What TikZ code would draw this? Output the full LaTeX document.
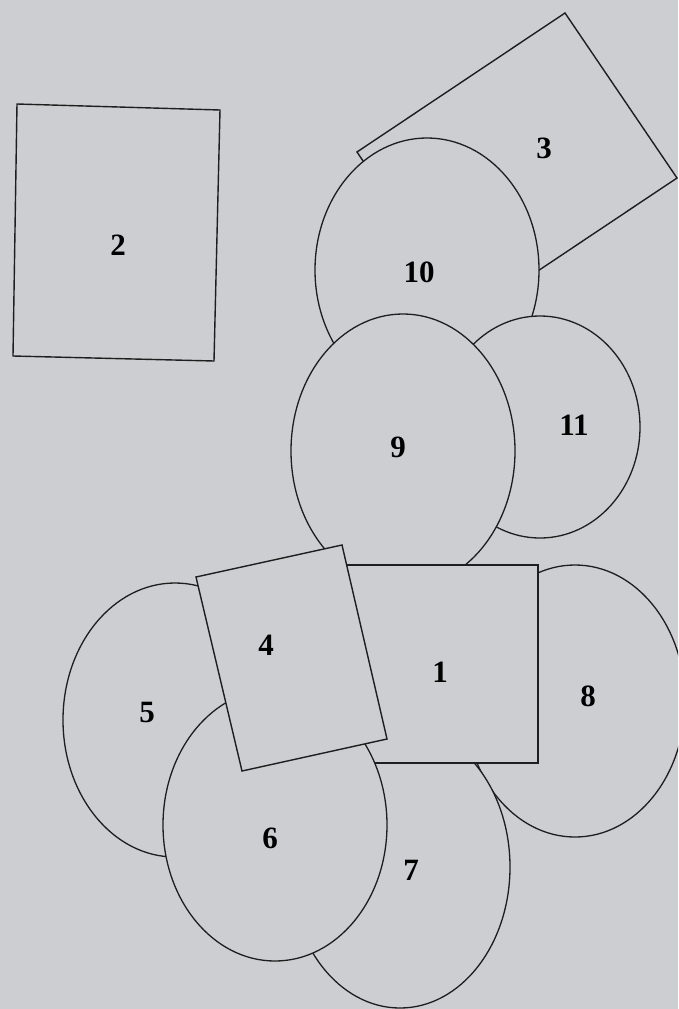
\documentclass[tikz,border=0pt]{standalone}
\usepackage{fontspec}
\setmainfont{Liberation Serif}
\definecolor{paper}{RGB}{204,206,209}
\definecolor{ink}{RGB}{30,30,30}

\begin{document}
\begin{tikzpicture}[
  x=1pt,y=-1pt,
  blob/.style={draw=ink,fill=paper,line width=1.3pt},
  plate/.style={draw=ink,fill=paper,line width=1.4pt,line join=miter},
  num/.style={font=\fontsize{31}{32}\selectfont\bfseries,inner sep=0pt}
]

\fill[paper] (0,0) rectangle (678,1009);
\useasboundingbox (0,0) rectangle (678,1009);
\clip (0,0) rectangle (678,1009);

% back to front
\filldraw[plate] (565,13) -- (677,178) -- (469,317) -- (357,152) -- cycle;
\filldraw[blob] (427,270) ellipse (112 and 132);
\filldraw[blob] (540,427) ellipse (100 and 111);
\filldraw[blob] (403,451) ellipse (112 and 137);
\filldraw[blob] (575,701) ellipse (110 and 136);
\filldraw[blob] (400,867) ellipse (110 and 141);
\filldraw[plate] (340,565) rectangle (538,763);
\filldraw[blob] (175,720) ellipse (112 and 137);
\filldraw[blob] (275,825) ellipse (112 and 136);
\filldraw[plate] (196,577) -- (342,545) -- (387,739) -- (242,771) -- cycle;
\filldraw[plate] (17,104) -- (220,110) -- (214,361) -- (13,356) -- cycle;

\foreach \n/\x/\y in {1/440/672,2/118/245,3/544/148,4/266/645,5/147/712,6/270/838,
                      7/411/870,8/588/696,9/398/447,10/419/272,11/574/425}{
  \node[num] (n\n) at (\x,\y) {\n};
}

\end{tikzpicture}
\end{document}
